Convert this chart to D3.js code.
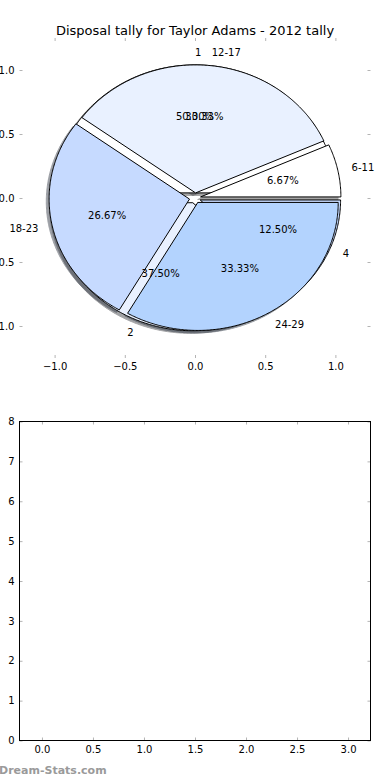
<!DOCTYPE html>
<html>
<head>
<meta charset="utf-8">
<script src="https://cdn.jsdelivr.net/npm/d3@7"></script>
<style>
	body { margin: 0; background: #fff; }
	svg { display: block; font-family: "DejaVu Sans", sans-serif; }
	.tick line { stroke: #b4b4b4; }
	.tick text { fill: #000; font-size: 10px; }
</style>
</head>
<body>
<svg width="390" height="780"></svg>
<script>
var title = "Disposal tally for Taylor Adams - 2012 tally";

// first pie: disposals per quarter
var pie1Labels = ["1", "2", "4"];
var pie1Values = [4, 3, 1];

// second pie: disposal ranges
var pie2Labels = ["6-11", "12-17", "18-23", "24-29"];
var pie2Values = [1, 5, 4, 5];

var wedgeColors = ["#ffffff", "#e9f1ff", "#c6daff", "#b3d3fe"];
var explode = 0.04;

var pieTicks = [-1.0, -0.5, 0.0, 0.5, 1.0];
var lowerXTicks = [0.0, 0.5, 1.0, 1.5, 2.0, 2.5, 3.0];
var lowerYTicks = [0, 1, 2, 3, 4, 5, 6, 7, 8];

var svg = d3.select("svg");

var left = 19.5, right = 370.5;

var x = d3.scaleLinear().domain([-1.25, 1.25]).range([left, right]);
var y = d3.scaleLinear().domain([-1.25, 1.25]).range([358, 38]);

var x2 = d3.scaleLinear().domain([-0.22, 3.22]).range([left, right]);
var y2 = d3.scaleLinear().domain([0, 8]).range([740.5, 421.5]);

var fmt1 = function (d) { return d3.format(".1f")(d).replace("-", "\u2212"); };

function drawAxes(g, xs, ys, xt, yt, xf, yf) {
	var top = ys.range()[1], bottom = ys.range()[0];
	g.append("g")
		.attr("transform", "translate(0," + bottom + ")")
		.call(d3.axisBottom(xs).tickValues(xt).tickFormat(xf).tickSizeInner(-3).tickSizeOuter(0).tickPadding(5));
	g.append("g")
		.attr("transform", "translate(0," + top + ")")
		.call(d3.axisTop(xs).tickValues(xt).tickFormat("").tickSizeInner(-3).tickSizeOuter(0));
	g.append("g")
		.attr("transform", "translate(" + left + ",0)")
		.call(d3.axisLeft(ys).tickValues(yt).tickFormat(yf).tickSizeInner(-3).tickSizeOuter(0).tickPadding(5));
	g.append("g")
		.attr("transform", "translate(" + right + ",0)")
		.call(d3.axisRight(ys).tickValues(yt).tickFormat("").tickSizeInner(-3).tickSizeOuter(0));
	g.selectAll(".domain").remove();
	g.selectAll(".tick text").attr("font-family", "DejaVu Sans");
}

// upper axes (no frame, only ticks)
var upper = svg.append("g");
drawAxes(upper, x, y, pieTicks, pieTicks, fmt1, fmt1);

// lower axes (empty, framed)
var lower = svg.append("g");
drawAxes(lower, x2, y2, lowerXTicks, lowerYTicks, fmt1, d3.format("d"));
lower.append("rect")
	.attr("x", left)
	.attr("y", y2.range()[1])
	.attr("width", right - left)
	.attr("height", y2.range()[0] - y2.range()[1])
	.attr("fill", "none")
	.attr("stroke", "#000")
	.attr("stroke-width", 1);

// pie geometry, matplotlib style: counterclockwise from 3 o'clock
var pieLayout = d3.pie().sort(null).startAngle(0).endAngle(2 * Math.PI);

function buildWedges(labels, values) {
	return pieLayout(values).map(function (d, i) {
		var mid = (d.startAngle + d.endAngle) / 2;
		var cx = explode * Math.cos(mid), cy = explode * Math.sin(mid);
		var pts = [[cx, cy]];
		var n = Math.max(4, Math.ceil((d.endAngle - d.startAngle) / 0.01));
		for (var k = 0; k <= n; k++) {
			var a = d.startAngle + (d.endAngle - d.startAngle) * k / n;
			pts.push([cx + Math.cos(a), cy + Math.sin(a)]);
		}
		return {
			label: labels[i],
			pct: d3.format(".2f")(100 * d.value / d3.sum(values)) + "%",
			mid: mid, cx: cx, cy: cy,
			points: pts,
			color: wedgeColors[i % wedgeColors.length]
		};
	});
}

var wedges1 = buildWedges(pie1Labels, pie1Values);
var wedges2 = buildWedges(pie2Labels, pie2Values);
var allWedges = wedges1.concat(wedges2);

var line = d3.line()
	.x(function (d) { return x(d[0]); })
	.y(function (d) { return y(d[1]); })
	.curve(d3.curveLinearClosed);

var shadowLine = d3.line()
	.x(function (d) { return x(d[0] - 0.02); })
	.y(function (d) { return y(d[1] - 0.02); })
	.curve(d3.curveLinearClosed);

function darker(c) {
	var r = d3.rgb(c);
	return d3.rgb(r.r * 0.3, r.g * 0.3, r.b * 0.3).toString();
}

// shadows go under every wedge
svg.append("g")
	.selectAll("path")
	.data(allWedges)
	.enter().append("path")
		.attr("d", function (d) { return shadowLine(d.points); })
		.attr("fill", function (d) { return darker(d.color); })
		.attr("stroke", function (d) { return darker(d.color); })
		.attr("opacity", 0.5);

svg.append("g")
	.selectAll("path")
	.data(allWedges)
	.enter().append("path")
		.attr("d", function (d) { return line(d.points); })
		.attr("fill", function (d) { return d.color; })
		.attr("stroke", "#000")
		.attr("stroke-width", 1)
		.attr("stroke-linejoin", "miter");

var texts = svg.append("g")
	.attr("font-family", "DejaVu Sans")
	.attr("font-size", 10)
	.attr("fill", "#000");

allWedges.forEach(function (d) {
	var lx = d.cx + 1.1 * Math.cos(d.mid), ly = d.cy + 1.1 * Math.sin(d.mid);
	texts.append("text")
		.attr("x", x(lx))
		.attr("y", y(ly))
		.attr("dominant-baseline", "central")
		.attr("text-anchor", lx > 0 ? "start" : "end")
		.text(d.label);
	texts.append("text")
		.attr("x", x(d.cx + 0.6 * Math.cos(d.mid)))
		.attr("y", y(d.cy + 0.6 * Math.sin(d.mid)))
		.attr("dominant-baseline", "central")
		.attr("text-anchor", "middle")
		.text(d.pct);
});

svg.append("text")
	.attr("x", (left + right) / 2)
	.attr("y", 30)
	.attr("dominant-baseline", "central")
	.attr("text-anchor", "middle")
	.attr("font-family", "DejaVu Sans")
	.attr("font-size", 13)
	.text(title);

svg.append("text")
	.attr("x", -1)
	.attr("y", 770)
	.attr("dominant-baseline", "central")
	.attr("font-family", "DejaVu Sans")
	.attr("font-weight", "bold")
	.attr("font-size", 11)
	.attr("fill", "#9a9a9a")
	.text("Dream-Stats.com");
</script>
</body>
</html>
